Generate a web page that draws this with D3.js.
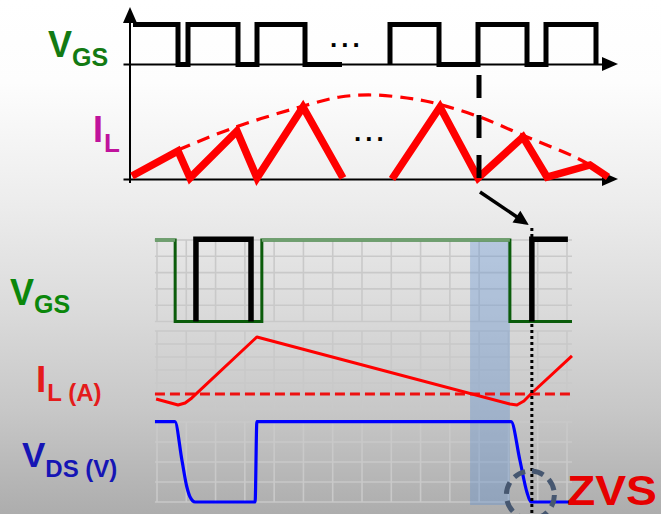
<!DOCTYPE html>
<html><head><meta charset="utf-8">
<script src="https://cdn.jsdelivr.net/npm/d3@7"></script>
<style>html,body{margin:0;padding:0;background:#fff}svg{display:block}</style>
</head><body>
<svg id="chart" width="661" height="514"></svg>
<script>
// ---------- upper sketch: gate pulses and inductor current over a half line cycle ----------
// time runs along the upper axis in arbitrary units; gate is 0 (off) / 1 (on)
const topGateRuns = [
  [[3,1],[48,1],[48,0],[58,0],[58,1],[108,1],[108,0],[127,0],[127,1],[175,1],[175,0],[212,0]],
  [[260,0],[260,1],[309,1],[309,0],[348,0],[348,1],[397,1],[397,0],[416,0],[416,1],[466,1],[466,0]]
];
// triangular inductor current (arbitrary units)
const topCurrentRuns = [
  [[2,3],[48,28],[60,1],[107,48],[127,1],[173,72],[213,1]],
  [[262,0],[310,72],[348,1],[393,42],[417,2],[460,14],[478,2]]
];
// peak-current envelope
const topEnvelope = [[48,29],[103,51],[170,72],[210,82],[243,84],[277,81],[300,77],[347,63],[397,42],[447,21],[477,4]];
const topMarkerTime = 349;

// ---------- lower scope view: one switching period zoomed in ----------
// x in grid divisions (0..14)
const gateGreen = [[-0.07,5],[0.62,5],[0.62,0],[3.58,0],[3.58,5],[12.05,5],[12.05,0],[14.17,0]];
const gateBlackRuns = [
  [[1.33,0],[1.33,5.05],[3.21,5.05],[3.21,0]],
  [[12.8,0],[12.8,5.05],[14.03,5.05]]
];
const inductorCurrent = [[-0.03,0.77],[0.72,0.31],[0.96,0.46],[1.19,0.85],[3.41,5.54],[12.05,0.38],[12.29,0.31],[12.53,0.62],[12.8,1.23],[14.17,4.08]];
const currentZeroRef = 1.15;
const drainVoltage = [[-0.07,4.02],[0.61,4.02],[0.85,2.1],[1.02,0.75],[1.13,0.25],[1.3,0],[3.35,0],[3.41,4.02],[12.09,4.02],[12.39,2.1],[12.63,0.5],[12.77,0],[14.27,0]];
const deadTimeSpan = [10.69, 12.05];
const turnOnDiv = 12.8;

const FONT = "'Liberation Sans', Arial, sans-serif";
const svg = d3.select("#chart");

// background wash
const defs = svg.append("defs");
const grad = defs.append("linearGradient").attr("id","bg").attr("x1",0).attr("x2",0).attr("y1",0).attr("y2",1);
[[0,"#ffffff"],[0.16,"#fdfdfd"],[0.4,"#ececec"],[0.6,"#dbdbdb"],[0.8,"#c7c7c7"],[1,"#adadad"]]
  .forEach(([o,c]) => grad.append("stop").attr("offset",o).attr("stop-color",c));
svg.append("rect").attr("width",661).attr("height",514).attr("fill","url(#bg)");

// ---------- upper sketch ----------
const xTop = d3.scaleLinear().domain([0,488]).range([130,618]);
const yTopGate = d3.scaleLinear().domain([0,1]).range([64.5,24.5]);
const yTopCur = d3.scaleLinear().domain([0,84]).range([179,95]);

// baselines with arrow heads
function baseAxis(y) {
  const ax = d3.scaleLinear().domain([0,1]).range([123,606]);
  const g = svg.append("g").attr("transform",`translate(0,${y})`)
    .call(d3.axisBottom(ax).ticks(0).tickSizeOuter(0));
  g.select(".domain").attr("stroke","#000").attr("stroke-width",2);
  svg.append("path").attr("d",`M618,${y}L602,${y-7}L602,${y+7}Z`).attr("fill","#000");
}
baseAxis(yTopGate(0)-0.5);
baseAxis(yTopCur(0));
svg.append("line").attr("x1",xTop(0)).attr("x2",xTop(0)).attr("y1",20).attr("y2",183)
  .attr("stroke","#000").attr("stroke-width",2);
svg.append("path").attr("d",`M${xTop(0)},7L${xTop(0)-7},23L${xTop(0)+7},23Z`).attr("fill","#000");

const lineTopGate = d3.line().x(d=>xTop(d[0])).y(d=>yTopGate(d[1]));
topGateRuns.forEach(run => svg.append("path").attr("d",lineTopGate(run))
  .attr("fill","none").attr("stroke","#000").attr("stroke-width",5).attr("stroke-linejoin","miter"));

// envelope
svg.append("path").attr("d", d3.line().curve(d3.curveCatmullRom).x(d=>xTop(d[0])).y(d=>yTopCur(d[1]))(topEnvelope))
  .attr("fill","none").attr("stroke","#ff0000").attr("stroke-width",3.2).attr("stroke-dasharray","13 8");

const lineTopCur = d3.line().x(d=>xTop(d[0])).y(d=>yTopCur(d[1]));
topCurrentRuns.forEach(run => svg.append("path").attr("d",lineTopCur(run))
  .attr("fill","none").attr("stroke","#ff0000").attr("stroke-width",7.5).attr("stroke-linejoin","miter").attr("stroke-miterlimit",3));

// marker at the chosen switching instant
svg.append("line").attr("x1",xTop(topMarkerTime)).attr("x2",xTop(topMarkerTime))
  .attr("y1",75).attr("y2",183).attr("stroke","#000").attr("stroke-width",5).attr("stroke-dasharray","23 17");

// ellipses
svg.append("text").attr("x",330).attr("y",47).attr("font-family",FONT).attr("font-weight","bold")
  .attr("font-size",26).attr("letter-spacing",4).text("...");
svg.append("text").attr("x",354).attr("y",141).attr("font-family",FONT).attr("font-weight","bold")
  .attr("font-size",26).attr("letter-spacing",4).text("...");

// upper labels
const tl1 = svg.append("text").attr("x",48).attr("y",57).attr("font-family",FONT).attr("font-weight","bold").attr("fill","#137a13");
tl1.append("tspan").attr("font-size",36).text("V");
tl1.append("tspan").attr("font-size",25).attr("dy",9).text("GS");
const tl2 = svg.append("text").attr("x",93).attr("y",142).attr("font-family",FONT).attr("font-weight","bold").attr("fill","#c0139c");
tl2.append("tspan").attr("font-size",36).text("I");
tl2.append("tspan").attr("font-size",26).attr("dy",10).attr("dx",1).text("L");

// ---------- lower scope view ----------
const xBot = d3.scaleLinear().domain([0,14]).range([157,567]);
const yGate = d3.scaleLinear().domain([0,5]).range([321.5,240]);
const yCur = d3.scaleLinear().domain([0,6]).range([409,331]);
const yVds = d3.scaleLinear().domain([0,4]).range([502,422]);

const gridColor = "#c9c9c9";
[yGate, yCur, yVds].forEach(ys => {
  const [y0,y1] = ys.range();
  const g = svg.append("g");
  g.selectAll("line.v").data(xBot.ticks(14)).join("line")
    .attr("x1",d=>xBot(d)).attr("x2",d=>xBot(d)).attr("y1",y0).attr("y2",y1)
    .attr("stroke",gridColor).attr("stroke-width",1.6);
  g.selectAll("line.h").data(ys.ticks(ys.domain()[1])).join("line")
    .attr("x1",xBot(-0.07)).attr("x2",xBot(14.17)).attr("y1",d=>ys(d)).attr("y2",d=>ys(d))
    .attr("stroke",gridColor).attr("stroke-width",1.6);
});

// dead-time window
svg.append("rect").attr("x",xBot(deadTimeSpan[0])).attr("width",xBot(deadTimeSpan[1])-xBot(deadTimeSpan[0]))
  .attr("y",yGate(5)).attr("height",yVds(0)+3-yGate(5))
  .attr("fill","rgb(90,140,210)").attr("fill-opacity",0.35);

// gate drive
svg.append("path").attr("d",d3.line().x(d=>xBot(d[0])).y(d=>yGate(d[1]))(gateGreen))
  .attr("fill","none").attr("stroke","#0b5c0b").attr("stroke-width",3);
// lighter top edge of the gate trace
[[gateGreen[0],gateGreen[1]],[gateGreen[4],gateGreen[5]]].forEach(seg =>
  svg.append("path").attr("d",d3.line().x(d=>xBot(d[0])).y(d=>yGate(d[1]))(seg))
    .attr("fill","none").attr("stroke","#6f9f6f").attr("stroke-width",3.5));
gateBlackRuns.forEach(run => svg.append("path").attr("d",d3.line().x(d=>xBot(d[0])).y(d=>yGate(d[1]))(run))
  .attr("fill","none").attr("stroke","#000").attr("stroke-width",5.5));

// inductor current and its zero reference
svg.append("line").attr("x1",xBot(-0.07)).attr("x2",xBot(14.17)).attr("y1",yCur(currentZeroRef)).attr("y2",yCur(currentZeroRef))
  .attr("stroke","#ee1111").attr("stroke-width",3).attr("stroke-dasharray","10 5");
svg.append("path").attr("d",d3.line().x(d=>xBot(d[0])).y(d=>yCur(d[1]))(inductorCurrent))
  .attr("fill","none").attr("stroke","#ff0000").attr("stroke-width",3).attr("stroke-linejoin","round");

// drain-source voltage
svg.append("path").attr("d",d3.line().curve(d3.curveMonotoneX).x(d=>xBot(d[0])).y(d=>yVds(d[1]))(drainVoltage))
  .attr("fill","none").attr("stroke","#0000ff").attr("stroke-width",3.2);

// turn-on instant
svg.append("line").attr("x1",xBot(turnOnDiv)).attr("x2",xBot(turnOnDiv)).attr("y1",228).attr("y2",514)
  .attr("stroke","#000").attr("stroke-width",3).attr("stroke-dasharray","3 3");

// arrow from the upper marker to the scope view
{
  const sx = xTop(topMarkerTime)+1, sy = 192, tx = xBot(turnOnDiv)-3, ty = 225;
  const dx = tx-sx, dy = ty-sy, L = Math.hypot(dx,dy), ux = dx/L, uy = dy/L;
  const bx = tx-15*ux, by = ty-15*uy;
  svg.append("line").attr("x1",sx).attr("y1",sy).attr("x2",bx+2*ux).attr("y2",by+2*uy)
    .attr("stroke","#000").attr("stroke-width",3.5);
  svg.append("path").attr("d",`M${tx},${ty}L${bx-7*uy},${by+7*ux}L${bx+7*uy},${by-7*ux}Z`).attr("fill","#000");
}

// ZVS highlight
svg.append("circle").attr("cx",xBot(12.75)).attr("cy",yVds(0.35)).attr("r",24)
  .attr("fill","none").attr("stroke","#465770").attr("stroke-width",5).attr("stroke-dasharray","12 7");
svg.append("text").attr("x",567).attr("y",504.5).attr("font-family",FONT).attr("font-weight","bold")
  .attr("font-size",43).attr("textLength",90).attr("lengthAdjust","spacingAndGlyphs")
  .attr("fill","#e60000").text("ZVS");

// lower labels
const bl1 = svg.append("text").attr("x",10).attr("y",305).attr("font-family",FONT).attr("font-weight","bold").attr("fill","#0b870b");
bl1.append("tspan").attr("font-size",36).text("V");
bl1.append("tspan").attr("font-size",25).attr("dy",8).text("GS");
const bl2 = svg.append("text").attr("x",36).attr("y",392).attr("font-family",FONT).attr("font-weight","bold").attr("fill","#e41b1b");
bl2.append("tspan").attr("font-size",37).text("I");
bl2.append("tspan").attr("font-size",24).attr("dy",9).attr("dx",1).text("L (A)");
const bl3 = svg.append("text").attr("x",22).attr("y",467).attr("font-family",FONT).attr("font-weight","bold").attr("fill","#1515b5");
bl3.append("tspan").attr("font-size",35).text("V");
bl3.append("tspan").attr("font-size",24).attr("dy",10).text("DS (V)");
</script>
</body></html>
